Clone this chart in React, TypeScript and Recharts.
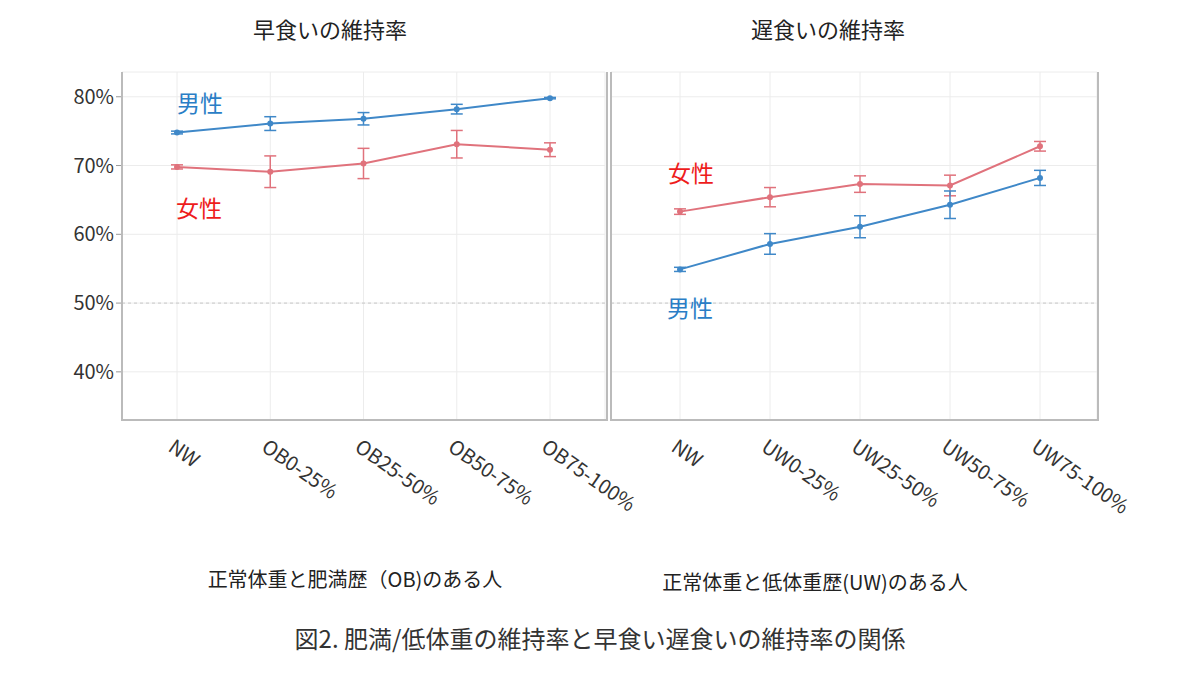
import { LineChart, Line, XAxis, YAxis, CartesianGrid, ErrorBar, ReferenceLine } from "recharts";

const obCats = ["NW", "OB0-25%", "OB25-50%", "OB50-75%", "OB75-100%"];
const uwCats = ["NW", "UW0-25%", "UW25-50%", "UW50-75%", "UW75-100%"];
const earlyMale = [74.8, 76.1, 76.8, 78.2, 79.8];
const earlyMaleErr = [0.2, 1.0, 0.9, 0.7, 0.1];
const earlyFemale = [69.8, 69.1, 70.3, 73.1, 72.3];
const earlyFemaleErr = [0.3, 2.3, 2.2, 2.0, 1.0];
const lateMale = [54.9, 58.6, 61.1, 64.3, 68.2];
const lateMaleErr = [0.3, 1.5, 1.6, 2.0, 1.1];
const lateFemale = [63.3, 65.4, 67.3, 67.1, 72.8];
const lateFemaleErr = [0.4, 1.4, 1.2, 1.5, 0.7];
const yTicks = [40, 50, 60, 70, 80];

const BLUE = "#3f88c8";
const RED = "#e0727c";
const FONT = "'Noto Sans CJK JP', 'Noto Sans', sans-serif";

const build = (cats: string[], m: number[], me: number[], f: number[], fe: number[]) =>
  cats.map((c, i) => ({ cat: c, male: m[i], maleErr: me[i], female: f[i], femaleErr: fe[i] }));

const early = build(obCats, earlyMale, earlyMaleErr, earlyFemale, earlyFemaleErr);
const late = build(uwCats, lateMale, lateMaleErr, lateFemale, lateFemaleErr);

const RotTick = ({ x, y, payload }: any) => (
  <text x={x - 10} y={y + 22} transform={`rotate(35 ${x - 10} ${y + 22})`} fontSize={20} fill="#333" fontFamily={FONT} textAnchor="start">
    {payload.value}
  </text>
);

const Panel = ({ data, showY, padL, padR, width }: any) => (
  <LineChart width={width + 110} height={570} data={data} margin={{ top: 72, right: 110, bottom: 10, left: 0 }}>
    <CartesianGrid stroke="#ececec" />
    <ReferenceLine y={50} stroke="#c8c8c8" strokeDasharray="3 3" />
    <XAxis dataKey="cat" height={140} padding={{ left: padL, right: padR }} tick={<RotTick />} tickLine={false} axisLine={false} interval={0} />
    <YAxis domain={[33, 83.6]} ticks={yTicks} hide={!showY} width={showY ? 122 : 0} tickFormatter={(v) => `${v}%`}
      tick={{ fontSize: 20, fill: "#333", fontFamily: FONT }} axisLine={false} tickLine={{ stroke: "#999" }} tickSize={6} />
    <Line dataKey="female" stroke={RED} strokeWidth={2} dot={{ r: 2, fill: RED, stroke: RED }} isAnimationActive={false}>
      <ErrorBar dataKey="femaleErr" stroke={RED} width={6} strokeWidth={1.5} />
    </Line>
    <Line dataKey="male" stroke={BLUE} strokeWidth={2} dot={{ r: 2, fill: BLUE, stroke: BLUE }} isAnimationActive={false}>
      <ErrorBar dataKey="maleErr" stroke={BLUE} width={6} strokeWidth={1.5} />
    </Line>
  </LineChart>
);

const txt = (s: string, x: number, y: number, size: number, color: string, center = false) => (
  <div style={{ position: "absolute", left: x, top: y, fontSize: size, color, fontFamily: FONT, whiteSpace: "nowrap", transform: center ? "translateX(-50%)" : undefined }}>
    {s}
  </div>
);

export default function App() {
  return (
    <div style={{ position: "absolute", left: 0, top: 0, width: 1200, height: 674, background: "#fff", overflow: "hidden" }}>
      <div style={{ position: "absolute", left: 0, top: 0 }}>
        <Panel data={early} showY padL={55} padR={55} width={605} />
      </div>
      <div style={{ position: "absolute", left: 611, top: 0 }}>
        <Panel data={late} showY={false} padL={69} padR={57} width={486} />
      </div>
      <div style={{ position: "absolute", left: 121, top: 72, width: 483, height: 347, borderLeft: "2px solid #bbb", borderRight: "2px solid #bbb", borderBottom: "2px solid #bbb" }} />
      <div style={{ position: "absolute", left: 610, top: 72, width: 485, height: 347, borderLeft: "2px solid #bbb", borderRight: "2px solid #bbb", borderBottom: "2px solid #bbb" }} />
      {txt("早食いの維持率", 330, 12, 22, "#222", true)}
      {txt("遅食いの維持率", 828, 12, 22, "#222", true)}
      {txt("男性", 177, 85, 23, "#2a7ec6")}
      {txt("女性", 176, 190, 23, "#ee1c1c")}
      {txt("女性", 668, 155, 23, "#ee1c1c")}
      {txt("男性", 667, 290, 23, "#2a7ec6")}
      {txt("正常体重と肥満歴（OB)のある人", 355, 564, 20, "#222", true)}
      {txt("正常体重と低体重歴(UW)のある人", 815, 567, 20, "#222", true)}
      {txt("図2. 肥満/低体重の維持率と早食い遅食いの維持率の関係", 600, 620, 24, "#333", true)}
    </div>
  );
}
